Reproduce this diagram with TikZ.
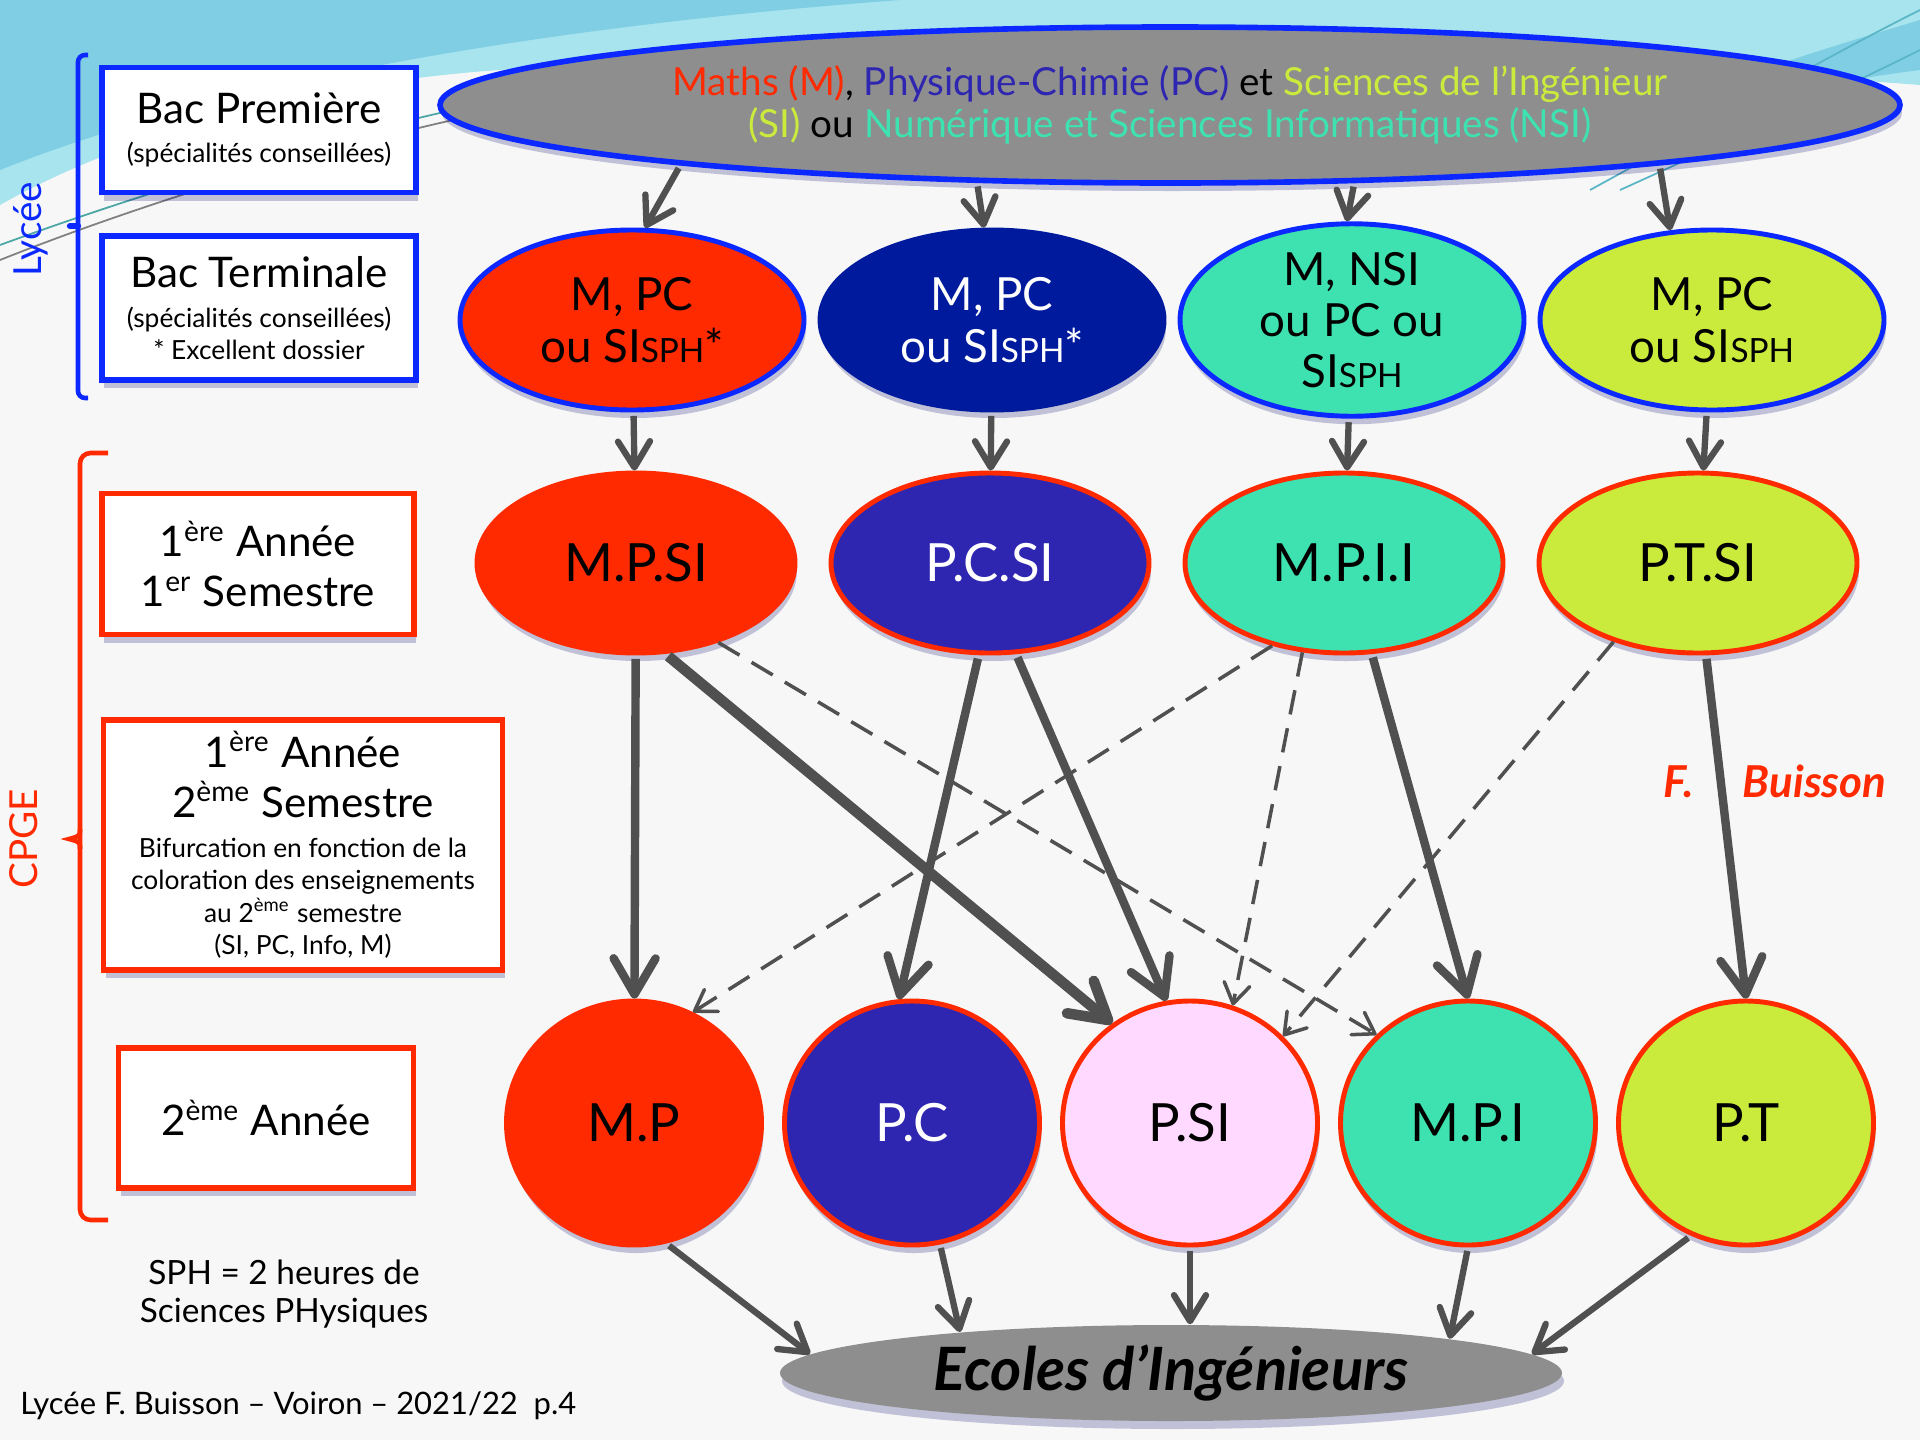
\documentclass[tikz,border=0pt]{standalone}
\usepackage{fontspec}
\setmainfont{Lato}
\usetikzlibrary{shapes.geometric, positioning, arrows.meta, shadows}
\definecolor{rouge}{RGB}{255,42,0}
\definecolor{marine}{RGB}{0,26,158}
\definecolor{indigo}{RGB}{46,38,176}
\definecolor{turquoise}{RGB}{61,226,176}
\definecolor{citron}{RGB}{203,235,60}
\definecolor{rose}{RGB}{255,217,255}
\definecolor{gris}{RGB}{142,142,142}
\definecolor{bleu}{RGB}{10,40,255}
\definecolor{fleche}{RGB}{80,80,80}
\definecolor{ciel}{RGB}{168,228,237}
\definecolor{cielfonce}{RGB}{128,206,228}
\definecolor{fond}{RGB}{247,247,247}
\newcommand\grand{\fontsize{12}{14.2}\selectfont}
\newcommand\petit{\fontsize{7.5}{9.2}\selectfont}
\newcommand\sph{{\fontsize{9.5}{10}\selectfont SPH}}
\tikzset{
    ombre/.style={drop shadow={shadow xshift=0.2mm, shadow yshift=-0.8mm, opacity=0.22, fill=black!60!blue}}, % soft shadow under each shape
    niveau/.style={rectangle, fill=white, line width=1.6pt, align=center, ombre}, % boxes on the left
    choix/.style={ellipse, draw=bleu, line width=1.4pt, minimum width=3.44cm, minimum height=1.8cm, inner sep=0pt, align=center, font=\fontsize{13}{14.6}\selectfont, ombre}, % lycee choices
    prepa/.style={ellipse, draw=rouge, line width=1.4pt, minimum width=3.18cm, minimum height=1.8cm, inner sep=0pt, font=\fontsize{15}{18}\selectfont, ombre}, % first year
    filiere/.style={ellipse, draw=rouge, line width=1.4pt, minimum width=2.55cm, minimum height=2.44cm, inner sep=0pt, font=\fontsize{15}{18}\selectfont, ombre}, % second year
    moyen/.style={->, draw=fleche, line width=1.8pt, shorten <=1pt, >={Straight Barb[round, length=2.6mm, width=3.2mm]}},
    fort/.style={->, draw=fleche, line width=2.4pt, shorten <=1pt, >={Straight Barb[round, length=3.6mm, width=4.2mm]}},
    tresfort/.style={fort, line width=3pt},
    option/.style={->, draw=fleche, line width=1pt, dash pattern=on 7pt off 4pt, >={Straight Barb[round, length=2mm, width=2.6mm]}}, % dashed links
}

\begin{document}
\begin{tikzpicture}
\useasboundingbox (0,0) rectangle (19.2,-14.4);
% background
\fill[fond] (0,0) rectangle (19.2,-14.4);
\fill[ciel] (0,0) -- (19.2,0) -- (19.2,-0.85) .. controls (14,-0.45) and (9,-0.3) .. (5,-0.7) .. controls (3.5,-0.8) and (1.5,-1.2) .. (0,-2.05) -- cycle;
\fill[cielfonce] (0,0) -- (9,0) .. controls (5,-0.3) and (2,-0.9) .. (0,-1.7) -- cycle;
\fill[cielfonce] (19.2,-0.2) .. controls (18.2,-0.5) and (17.2,-0.8) .. (16.4,-1.2) .. controls (17.4,-1.0) and (18.4,-0.8) .. (19.2,-0.7) -- cycle;
\draw[cielfonce!70!teal, line width=0.5pt] (15.9,-1.9) .. controls (17,-1.3) and (18.2,-0.6) .. (19.2,-0.1);
\draw[cielfonce!70!teal, line width=0.5pt] (16.2,-1.9) .. controls (17.3,-1.4) and (18.4,-0.9) .. (19.2,-0.5);
\draw[teal!70, line width=0.5pt] (0,-2.45) .. controls (1.5,-1.9) and (3.5,-1.3) .. (5,-1.0);
\draw[gray, line width=0.5pt] (0,-2.6) .. controls (1.5,-2.0) and (3.5,-1.4) .. (5,-1.1);

% brackets
\draw[bleu, line width=1.3pt, rounded corners=2pt] (0.88,-0.55) -- (0.78,-0.55) -- (0.78,-3.98) -- (0.88,-3.98);
\draw[bleu, line width=1.8pt, line cap=round] (0.78,-2.26) -- (0.70,-2.26);
\draw[rouge, line width=1.3pt, rounded corners=3pt] (1.08,-4.53) -- (0.80,-4.53) -- (0.80,-12.20) -- (1.08,-12.20);
\draw[rouge, line width=1.3pt] (0.80,-8.29) .. controls (0.80,-8.36) .. (0.69,-8.39) .. controls (0.80,-8.42) .. (0.80,-8.49);
\node[bleu, rotate=90, font=\fontsize{11}{13}\selectfont] (lycee) at (0.31,-2.29) {Lycée};
\node[rouge, rotate=90, font=\fontsize{11}{13}\selectfont] (cpge) at (0.24,-8.39) {CPGE};

% level boxes
\node[niveau, draw=bleu, minimum width=3.14cm, minimum height=1.25cm, font=\petit] (premiere) at (2.59,-1.30)
    {\grand Bac Première\\[2pt]\petit (spécialités conseillées)};
\node[niveau, draw=bleu, minimum width=3.14cm, minimum height=1.44cm, font=\petit] (terminale) at (2.59,-3.08)
    {\grand Bac Terminale\\[2.3pt]\petit (spécialités conseillées)\\* Excellent dossier};
\node[niveau, draw=rouge, minimum width=3.12cm, minimum height=1.41cm, font=\grand] (semestre1) at (2.58,-5.64)
    {1\textsuperscript{ère} Année\\1\textsuperscript{er} Semestre};
\node[niveau, draw=rouge, minimum width=3.99cm, minimum height=2.49cm, font=\petit] (semestre2) at (3.03,-8.45)
    {\grand 1\textsuperscript{ère} Année\\[3pt]\grand 2\textsuperscript{ème} Semestre\\[2.3pt]\petit Bifurcation en fonction de la\\coloration des enseignements\\au 2\textsuperscript{ème} semestre\\(SI, PC, Info, M)};
\node[niveau, draw=rouge, minimum width=2.95cm, minimum height=1.40cm, font=\grand] (annee2) at (2.66,-11.18)
    {2\textsuperscript{ème} Année};

% top and bottom
\node[ellipse, draw=bleu, fill=gris, line width=1.6pt, minimum width=14.6cm, minimum height=1.56cm, align=center, ombre, font=\fontsize{11}{12}\selectfont] (specialites) at (11.70,-1.05)
    {\textcolor{rouge}{Maths (M)}, \textcolor{indigo}{Physique-Chimie (PC)} et \textcolor{citron}{Sciences de l’Ingénieur}\\\textcolor{citron}{(SI)} ou \textcolor{turquoise}{Numérique et Sciences Informatiques (NSI)}};
\node[ellipse, fill=gris, minimum width=7.82cm, minimum height=0.96cm, inner sep=0pt, ombre, font=\fontsize{17}{19}\selectfont\bfseries\itshape] (ecoles) at (11.71,-13.73) {Ecoles d’Ingénieurs};

% lycee choices
\begin{scope}[node distance=3.6cm]
\node[choix, fill=rouge] (bacmpsi) at (6.32,-3.20) {M, PC\\ou SI\sph*};
\node[choix, fill=marine, draw=marine, text=white, right of=bacmpsi] (bacpcsi) {M, PC\\ou SI\sph*};
\node[choix, fill=turquoise, right of=bacpcsi] (bacmpii) {M, NSI\\ou PC ou\\SI\sph};
\node[choix, fill=citron, right of=bacmpii] (bacptsi) {M, PC\\ou SI\sph};
\end{scope}

% first year
\begin{scope}[node distance=3.54cm]
\node[prepa, fill=rouge] (mpsi) at (6.36,-5.63) {M.P.SI};
\node[prepa, fill=indigo, text=white, right of=mpsi] (pcsi) {P.C.SI};
\node[prepa, fill=turquoise, right of=pcsi] (mpii) {M.P.I.I};
\node[prepa, fill=citron, right of=mpii] (ptsi) {P.T.SI};
\end{scope}

% second year
\begin{scope}[node distance=2.78cm]
\node[filiere, fill=rouge, draw=rouge] (mp) at (6.34,-11.23) {M.P};
\node[filiere, fill=indigo, text=white, right of=mp] (pc) {P.C};
\node[filiere, fill=rose, right of=pc] (psi) {P.SI};
\node[filiere, fill=turquoise, right of=psi] (mpi) {M.P.I};
\node[filiere, fill=citron, right of=mpi] (pt) {P.T};
\end{scope}

\node[rouge, font=\fontsize{12.5}{14}\selectfont\bfseries\itshape] (auteur) at (17.75,-7.81) {F.\hspace{14pt}Buisson};
\node[align=center, font=\fontsize{9.5}{11}\selectfont] (note) at (2.84,-12.94) {SPH = 2 heures de\\Sciences PHysiques};
\node[anchor=west, font=\fontsize{8.8}{11}\selectfont] (pied) at (0.08,-14.06) {Lycée F. Buisson – Voiron – 2021/22\ \ p.4};

% arrows
\draw[moyen] (specialites.187) -- (bacmpsi.82);
\draw[moyen] (specialites.202) -- (bacpcsi.95);
\draw[moyen] (specialites.337) -- (bacmpii.93);
\draw[moyen] (specialites.353) -- (bacptsi.115);
\draw[moyen] (bacmpsi) -- (mpsi);
\draw[moyen] (bacpcsi) -- (pcsi);
\draw[moyen] (bacmpii) -- (mpii);
\draw[moyen] (bacptsi) -- (ptsi);
\draw[fort] (mpsi) -- (mp);
\draw[tresfort] (mpsi.288) -- (psi.128);
\draw[option] (mpsi.316) -- (mpi.136);
\draw[fort] (pcsi.263) -- (pc.96);
\draw[fort] (pcsi.286) -- (psi.101);
\draw[option] (mpii.229) -- (mp.62);
\draw[option] (mpii.245) -- (psi.70);
\draw[fort] (mpii.287) -- (mpi.north);
\draw[option] (ptsi.223) -- (psi.43);
\draw[fort] (ptsi.275) -- (pt.north);
\draw[moyen] (mp.285) -- (ecoles.177);
\draw[moyen] (pc.283) -- (ecoles.169);
\draw[moyen] (psi.south) -- (psi.south |- ecoles.north);
\draw[moyen] (mpi.270) -- (ecoles.7);
\draw[moyen] (pt.244) -- (ecoles.3);
\end{tikzpicture}
\end{document}
